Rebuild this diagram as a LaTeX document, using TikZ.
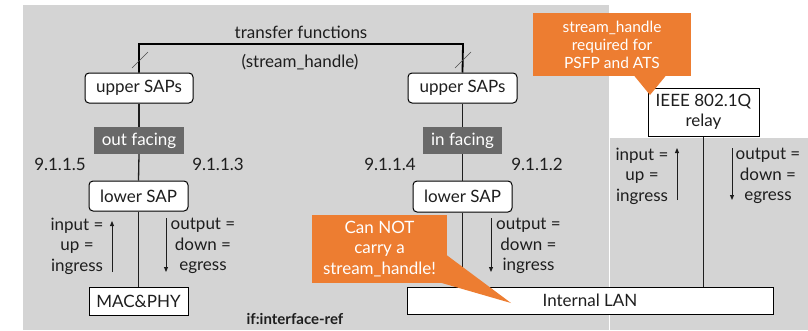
\documentclass[tikz,border=0pt]{standalone}
\usepackage{fontspec}
\setmainfont{Lato}
\usetikzlibrary{arrows.meta}
\definecolor{bggray}{RGB}{212,212,212}
\definecolor{facegray}{RGB}{105,105,105}
\definecolor{calloutorange}{RGB}{237,125,49}
\definecolor{inkgray}{RGB}{30,30,30}
\begin{document}
\begin{tikzpicture}[x=1pt,y=-1pt,
  every node/.style={font=\fontsize{17}{20.5}\selectfont, inner sep=0pt, text=inkgray},
  sapbox/.style={draw=black, line width=1pt, fill=white, rounded corners=4pt},
  plainbox/.style={draw=black, line width=1pt, fill=white, align=center},
  facebox/.style={fill=facegray, text=white},
  callout/.style={fill=calloutorange, text=white, align=center},
  conn/.style={line width=1.3pt, draw=inkgray},
  flow/.style={line width=0.9pt, draw=inkgray, -{Triangle[length=5pt,width=4pt]}},
  lbl/.style={align=center},
  tick/.style={line width=0.6pt, draw=black!70},
]
\useasboundingbox (0,0) rectangle (808,330);
\fill[bggray] (23,5) rectangle (609.4,330);
\fill[bggray] (610.2,138) rectangle (808,330);

% top transfer functions
\node[anchor=base] (tf) at (301,38) {transfer functions};
\node[anchor=base] (sh) at (300,67) {(stream\_handle)};
\coordinate (tl) at (139,44);
\coordinate (tr) at (463,44);

% left stack
\node[sapbox, minimum width=108pt, minimum height=30pt] (upL) at (139,88) {upper SAPs};
\node[facebox, minimum width=90pt, minimum height=27pt] (outf) at (139,140.5) {out facing};
\node[sapbox, minimum width=99pt, minimum height=30pt] (lowL) at (138.5,196) {lower SAP};
\node[plainbox, minimum width=99pt, minimum height=28pt] (mac) at (138.5,301) {MAC\&PHY};

% right stack
\node[sapbox, minimum width=109pt, minimum height=30pt] (upR) at (462.5,88) {upper SAPs};
\node[facebox, minimum width=79pt, minimum height=27pt] (inf) at (462.5,140.5) {in facing};
\node[sapbox, minimum width=99pt, minimum height=31pt] (lowR) at (462.5,196.5) {lower SAP};
\node[plainbox, minimum width=366pt, minimum height=27pt] (lan) at (590,300.5) {Internal LAN};

% relay
\node[plainbox, minimum width=111pt, minimum height=48pt] (relay) at (703.5,112) {IEEE 802.1Q\\relay};

% connectors
\draw[line width=1.8pt, draw=black] (upL.north) -- (tl) -- (tr) -- (upR.north);
\draw[conn] (upL.south) -- (outf.north);
\draw[conn] (outf.south) -- (lowL.north);
\draw[conn] (lowL.south) -- (mac.north);
\draw[conn] (upR.south) -- (inf.north);
\draw[conn] (inf.south) -- (lowR.north);
\draw[conn] (lowR.south) -- (lowR.south |- lan.north);
\draw[conn] (relay.south) -- (relay.south |- lan.north);

% slash marks
\draw[tick] (132,68) -- (148,52);
\draw[tick] (455,68) -- (471,52);

% clause numbers
\node[anchor=base] (n5) at (60,170) {9.1.1.5};
\node[anchor=base] (n3) at (218,170) {9.1.1.3};
\node[anchor=base] (n4) at (390,170) {9.1.1.4};
\node[anchor=base] (n2) at (537,170) {9.1.1.2};

% flow arrows left
\coordinate (aLus) at (112,272);
\coordinate (aLue) at (112,221);
\draw[flow] (aLus) -- (aLue);
\coordinate (aLds) at (166,218);
\coordinate (aLde) at (166,272);
\draw[flow] (aLds) -- (aLde);
\node[lbl] (inL) at (77,246) {input =\\up =\\ingress};
\node[lbl] (outL) at (203,246) {output =\\down =\\egress};

% flow arrow right stack
\coordinate (aRds) at (491,218);
\coordinate (aRde) at (491,272);
\draw[flow] (aRds) -- (aRde);
\node[lbl] (outR) at (528.5,246) {output =\\down =\\ingress};

% relay flow arrows
\coordinate (aQus) at (677,200);
\coordinate (aQue) at (677,148);
\draw[flow] (aQus) -- (aQue);
\coordinate (aQds) at (732,148);
\coordinate (aQde) at (732,200);
\draw[flow] (aQds) -- (aQde);
\node[lbl] (inQ) at (642,176) {input =\\up =\\ingress};
\node[lbl] (outQ) at (768,176) {output =\\down =\\egress};

% reference label
\node[anchor=base, font=\fontsize{15}{18}\selectfont\bfseries] (ref) at (295,324) {if:interface-ref};

% callouts
\node[callout, minimum width=158pt, minimum height=63pt, font=\fontsize{15.5}{18}\selectfont] (co1) at (612,44.5) {stream\_handle\\required for\\PSFP and ATS};
\coordinate (co1tip) at (650,95);
\fill[calloutorange] (634,75.5) -- (co1tip) -- (666,75.5) -- cycle;

\node[callout, minimum width=135pt, minimum height=68pt] (co2) at (379.5,249) {Can NOT\\carry a\\stream\_handle!};
\coordinate (co2tip) at (511,303);
\fill[calloutorange] (446.5,255) -- (co2tip) -- (440,282.5) -- cycle;
\end{tikzpicture}
\end{document}
